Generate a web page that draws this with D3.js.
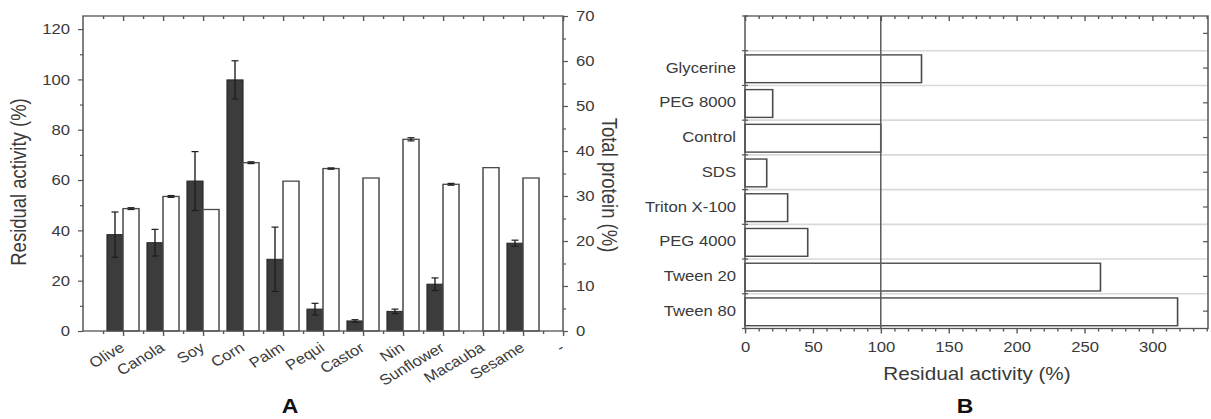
<!DOCTYPE html>
<html>
<head>
<meta charset="utf-8">
<script src="https://cdn.jsdelivr.net/npm/d3@7"></script>
<style>
  body { margin: 0; background: #fff; }
  text { font-family: "Liberation Sans", Arial, sans-serif; fill: #3a3a3a; }
</style>
</head>
<body>
<script>
// panel A: oils
var oils = ["Olive", "Canola", "Soy", "Corn", "Palm", "Pequi", "Castor", "Nin", "Sunflower", "Macauba", "Sesame", "-"];
var activity = [38.3, 35.1, 59.6, 99.8, 28.5, 8.7, 4.0, 7.8, 18.6, null, 34.9, null];
var activityErr = [9.0, 5.3, 11.7, 7.6, 12.8, 2.3, 0.5, 0.9, 2.5, null, 1.2, null];
var protein = [27.2, 29.9, 27.0, 37.4, 33.3, 36.1, 34.0, 42.6, 32.6, 36.3, 34.0, null];
var proteinErr = [0.2, 0.2, 0, 0.2, 0, 0.15, 0, 0.35, 0.2, 0, 0, null];

// panel B: additives, top to bottom
var additives = ["Glycerine", "PEG 8000", "Control", "SDS", "Triton X-100", "PEG 4000", "Tween 20", "Tween 80"];
var additiveActivity = [130, 20.4, 100, 16, 31.4, 46.2, 261.8, 318.6];

var leftTicks = [0, 20, 40, 60, 80, 100, 120];
var rightTicks = [0, 10, 20, 30, 40, 50, 60, 70];
var bTicks = [0, 50, 100, 150, 200, 250, 300];

var width = 1211, height = 419;
var S = 1.15; // the source figure is stretched horizontally
var px = function (v) { return v / S; };

var svg = d3.select("body").append("svg")
    .attr("width", width)
    .attr("height", height);
var root = svg.append("g").attr("transform", "scale(" + S + ",1)");

var axisColor = "#555";
var tickFont = 14.5;

function styleAxis(sel) {
    sel.attr("font-family", null).attr("font-size", tickFont);
    sel.select(".domain").remove();
    sel.selectAll("line").attr("stroke", axisColor).attr("stroke-width", 1.2);
    sel.selectAll("text").attr("fill", "#3a3a3a");
}

// ---------------- panel A ----------------
var A = {left: 83, right: 563, top: 16, bottom: 331};
var gA = root.append("g");

var xA = d3.scaleLinear().domain([0, oils.length]).range([px(A.left), px(A.right)]);
var yL = d3.scaleLinear().domain([0, 125.2]).range([A.bottom, A.top]);
var yR = d3.scaleLinear().domain([0, 70]).range([A.bottom, A.top]);
var barW = 0.4;
var capW = px(3.5);

var oilData = oils.map(function (o, i) {
    return {i: i, a: activity[i], ae: activityErr[i], p: protein[i], pe: proteinErr[i]};
});

// dark bars: residual activity
gA.selectAll(".act")
    .data(oilData.filter(function (d) { return d.a != null; }))
    .enter().append("rect")
    .attr("class", "act")
    .attr("x", function (d) { return xA(d.i + 1 - barW); })
    .attr("width", xA(barW) - xA(0))
    .attr("y", function (d) { return yL(d.a); })
    .attr("height", function (d) { return yL(0) - yL(d.a); })
    .style("fill", "#3c3c3c")
    .style("stroke", "#262626")
    .style("stroke-width", 1);

// white bars: total protein
gA.selectAll(".prot")
    .data(oilData.filter(function (d) { return d.p != null; }))
    .enter().append("rect")
    .attr("class", "prot")
    .attr("x", function (d) { return xA(d.i + 1); })
    .attr("width", xA(barW) - xA(0))
    .attr("y", function (d) { return yR(d.p); })
    .attr("height", function (d) { return yR(0) - yR(d.p); })
    .style("fill", "#fff")
    .style("stroke", "#4a4a4a")
    .style("stroke-width", 1.3);

function errorBars(data, xc, y, v, e) {
    var eb = gA.selectAll(null).data(data).enter().append("g")
        .style("stroke", "#1e1e1e").style("stroke-width", 1.2);
    eb.append("line")
        .attr("x1", xc).attr("x2", xc)
        .attr("y1", function (d) { return y(d[v] - d[e]); })
        .attr("y2", function (d) { return y(d[v] + d[e]); });
    eb.append("line")
        .attr("x1", function (d) { return xc(d) - capW; })
        .attr("x2", function (d) { return xc(d) + capW; })
        .attr("y1", function (d) { return y(d[v] + d[e]); })
        .attr("y2", function (d) { return y(d[v] + d[e]); });
    eb.append("line")
        .attr("x1", function (d) { return xc(d) - capW; })
        .attr("x2", function (d) { return xc(d) + capW; })
        .attr("y1", function (d) { return y(d[v] - d[e]); })
        .attr("y2", function (d) { return y(d[v] - d[e]); });
}
errorBars(oilData.filter(function (d) { return d.a != null; }),
    function (d) { return xA(d.i + 1 - barW / 2); }, yL, "a", "ae");
errorBars(oilData.filter(function (d) { return d.p != null && d.pe > 0; }),
    function (d) { return xA(d.i + 1 + barW / 2); }, yR, "p", "pe");

// frame
gA.append("rect")
    .attr("x", xA(0)).attr("y", A.top)
    .attr("width", xA(oils.length) - xA(0)).attr("height", A.bottom - A.top)
    .style("fill", "none").style("stroke", axisColor).style("stroke-width", 1.3);

// left axis
gA.append("g").attr("transform", "translate(" + xA(0) + ",0)")
    .call(d3.axisLeft(yL).tickValues(leftTicks).tickSize(px(5)).tickPadding(px(8)))
    .call(styleAxis);
gA.append("g").attr("transform", "translate(" + xA(0) + ",0)")
    .call(d3.axisLeft(yL).tickValues(leftTicks.slice(0, -1).map(function (t) { return t + 10; }))
        .tickSize(px(3)).tickFormat(""))
    .call(styleAxis);

// right axis
gA.append("g").attr("transform", "translate(" + xA(oils.length) + ",0)")
    .call(d3.axisRight(yR).tickValues(rightTicks).tickSize(px(5)).tickPadding(px(8)))
    .call(styleAxis);
gA.append("g").attr("transform", "translate(" + xA(oils.length) + ",0)")
    .call(d3.axisRight(yR).tickValues(rightTicks.slice(0, -1).map(function (t) { return t + 5; }))
        .tickSize(px(3)).tickFormat(""))
    .call(styleAxis);

// bottom axis with rotated category labels
var catPos = d3.range(1, oils.length + 1);
var halfPos = d3.range(0.5, oils.length, 1);
gA.append("g").attr("transform", "translate(0," + A.bottom + ")")
    .call(d3.axisBottom(xA).tickValues(catPos).tickSize(5)
        .tickFormat(function (i) { return oils[i - 1]; }))
    .call(styleAxis)
    .selectAll("text")
    .attr("y", null).attr("dy", null)
    .attr("text-anchor", "end")
    .attr("transform", "translate(" + px(2) + ",19) rotate(-34)");
gA.append("g").attr("transform", "translate(0," + A.bottom + ")")
    .call(d3.axisBottom(xA).tickValues(halfPos).tickSize(3).tickFormat(""))
    .call(styleAxis);

// top axis ticks (inward)
gA.append("g").attr("transform", "translate(0," + A.top + ")")
    .call(d3.axisTop(xA).tickValues(catPos).tickSize(-5).tickFormat(""))
    .call(styleAxis);
gA.append("g").attr("transform", "translate(0," + A.top + ")")
    .call(d3.axisTop(xA).tickValues(halfPos).tickSize(-3).tickFormat(""))
    .call(styleAxis);

// titles
gA.append("text")
    .attr("transform", "translate(" + px(18.5) + ",182) rotate(-90)")
    .attr("text-anchor", "middle").attr("dy", "0.35em")
    .attr("font-size", 18.5)
    .text("Residual activity (%)");
gA.append("text")
    .attr("transform", "translate(" + px(609.5) + ",185) rotate(90)")
    .attr("text-anchor", "middle").attr("dy", "0.35em")
    .attr("font-size", 18.5)
    .text("Total protein (%)");
gA.append("text")
    .attr("x", px(290)).attr("y", 413)
    .attr("text-anchor", "middle")
    .attr("font-size", 20).attr("font-weight", "bold")
    .style("fill", "#111")
    .text("A");

// ---------------- panel B ----------------
var B = {left: 745, right: 1208, top: 16, bottom: 328.5};
var gB = root.append("g");

var rows = [""].concat(additives);
var xB = d3.scaleLinear().domain([0, 341]).range([px(B.left), px(B.right)]);
var yB = d3.scaleBand().domain(rows).range([B.top, B.bottom]);
var bw = yB.bandwidth();

// light grid at row boundaries
gB.selectAll(".grid")
    .data(additives)
    .enter().append("line")
    .attr("class", "grid")
    .attr("x1", xB(0)).attr("x2", xB(341))
    .attr("y1", function (d) { return yB(d); })
    .attr("y2", function (d) { return yB(d); })
    .style("stroke", "#d9d9d9").style("stroke-width", 1.6);

// bars
gB.selectAll(".bar")
    .data(additives)
    .enter().append("rect")
    .attr("class", "bar")
    .attr("x", xB(0))
    .attr("y", function (d) { return yB(d) + bw * 0.12; })
    .attr("width", function (d, i) { return xB(additiveActivity[i]) - xB(0); })
    .attr("height", bw * 0.8)
    .style("fill", "#fff")
    .style("stroke", "#4a4a4a")
    .style("stroke-width", 1.4);

// reference line at 100 %
gB.append("line")
    .attr("x1", xB(100)).attr("x2", xB(100))
    .attr("y1", B.top).attr("y2", B.bottom)
    .style("stroke", "#5a5a5a").style("stroke-width", 1.3);

// frame
gB.append("rect")
    .attr("x", xB(0)).attr("y", B.top)
    .attr("width", xB(341) - xB(0)).attr("height", B.bottom - B.top)
    .style("fill", "none").style("stroke", axisColor).style("stroke-width", 1.3);

// category labels
gB.append("g").attr("transform", "translate(" + xB(0) + ",0)")
    .call(d3.axisLeft(yB).tickSize(0).tickPadding(px(9)))
    .call(styleAxis);

// small ticks on the row boundaries (left) and row centres (right)
var yIdx = d3.scaleLinear().domain([0, rows.length]).range([B.top, B.bottom]);
gB.selectAll(".ltick")
    .data(d3.range(0, rows.length + 1))
    .enter().append("line")
    .attr("x1", xB(0) - px(3)).attr("x2", xB(0) + px(3))
    .attr("y1", function (d) { return yIdx(d); })
    .attr("y2", function (d) { return yIdx(d); })
    .style("stroke", axisColor).style("stroke-width", 1.2);
gB.append("g").attr("transform", "translate(" + xB(341) + ",0)")
    .call(d3.axisRight(yB).tickSize(-px(5)).tickFormat(""))
    .call(styleAxis);

// bottom axis
var minorB = d3.range(0, 341, 10).filter(function (t) { return t % 50 !== 0; });
gB.append("g").attr("transform", "translate(0," + B.bottom + ")")
    .call(d3.axisBottom(xB).tickValues(bTicks).tickSize(5).tickPadding(8.2))
    .call(styleAxis);
gB.append("g").attr("transform", "translate(0," + B.bottom + ")")
    .call(d3.axisBottom(xB).tickValues(minorB).tickSize(3).tickFormat(""))
    .call(styleAxis);
// top axis (inward)
gB.append("g").attr("transform", "translate(0," + B.top + ")")
    .call(d3.axisTop(xB).tickValues(bTicks).tickSize(-5).tickFormat(""))
    .call(styleAxis);
gB.append("g").attr("transform", "translate(0," + B.top + ")")
    .call(d3.axisTop(xB).tickValues(minorB).tickSize(-3).tickFormat(""))
    .call(styleAxis);

gB.append("text")
    .attr("x", px(977)).attr("y", 380)
    .attr("text-anchor", "middle")
    .attr("font-size", 18)
    .text("Residual activity (%)");
gB.append("text")
    .attr("x", px(965)).attr("y", 413)
    .attr("text-anchor", "middle")
    .attr("font-size", 20).attr("font-weight", "bold")
    .style("fill", "#111")
    .text("B");
</script>
</body>
</html>
